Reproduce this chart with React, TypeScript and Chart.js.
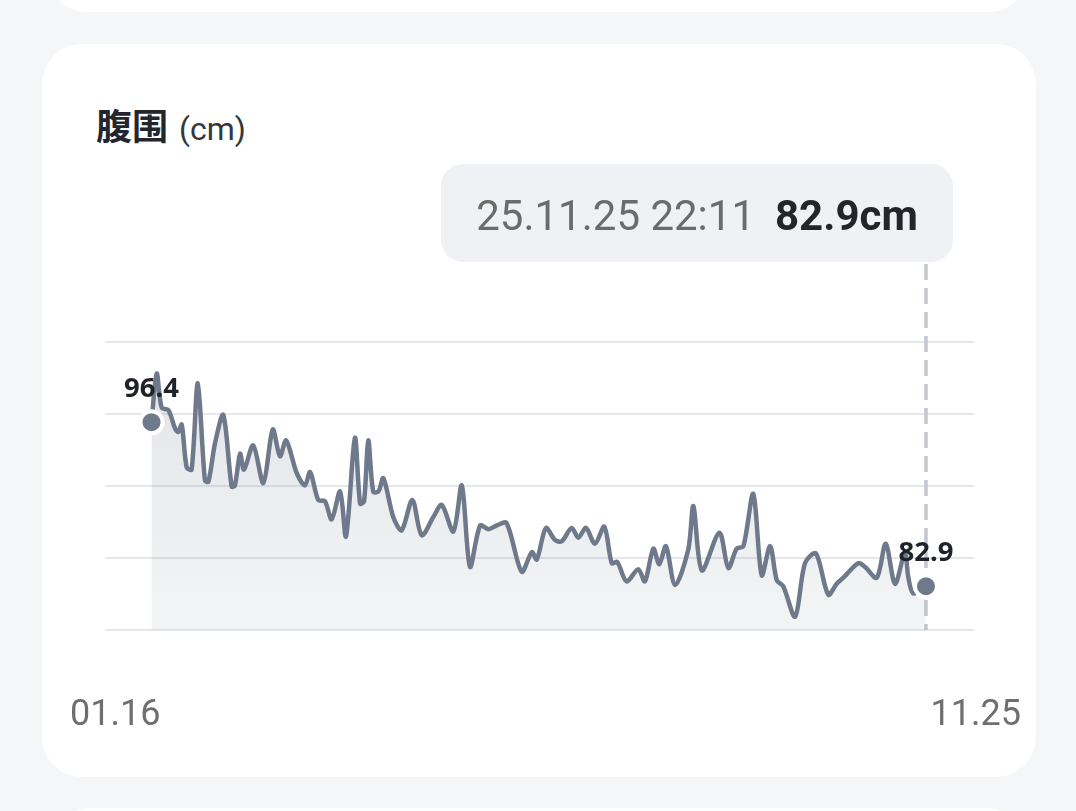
import React, { useEffect, useRef } from 'react';
import { Chart, registerables } from 'chart.js';

Chart.register(...registerables);

// ---- data ----
// days since 01.16 for each measurement
const dayOffsets = [
  0, 2.1, 4.1, 6.8, 9.5, 10.8, 12.2, 14.2, 16.2, 18.7,
  21.6, 23.0, 25.7, 29.0, 32.4, 33.7, 35.8, 37.4, 41.1, 45.2,
  49.0, 51.9, 54.4, 58.7, 62.0, 64.1, 67.4, 70.1, 72.8, 76.2,
  78.6, 82.2, 84.3, 85.9, 87.6, 89.6, 91.7, 93.7, 97.7, 101.1,
  105.4, 109.2, 113.9, 117.3, 122.0, 125.4, 128.7, 132.8, 136.1, 139.5,
  143.5, 149.6, 153.7, 155.7, 159.4, 163.1, 165.8, 169.8, 172.5, 175.6,
  179.2, 183.0, 186.0, 188.2, 192.0, 196.7, 199.4, 202.8, 205.2, 207.9,
  211.6, 216.9, 219.0, 222.4, 229.5, 233.1, 236.5, 239.2, 243.2, 246.6,
  250.0, 252.7, 255.3, 260.1, 264.1, 268.5, 273.5, 276.9, 279.6, 285.6,
  288.3, 293.1, 296.7, 300.5, 304.5, 305.8, 307.9, 313,
];
// waist circumference (cm)
const waistValues = [
  96.4, 100.4, 97.6, 97.4, 95.9, 95.6, 96.2, 92.7, 92.5, 99.6,
  91.6, 91.5, 94.7, 97.0, 91.1, 91.2, 93.8, 92.5, 94.5, 91.4,
  95.8, 93.6, 94.9, 92.2, 91.2, 92.3, 90.0, 89.9, 88.4, 90.7,
  87.0, 95.1, 89.7, 89.9, 94.9, 90.7, 90.7, 91.8, 88.6, 87.5,
  90.0, 87.1, 88.6, 89.6, 87.4, 91.2, 84.5, 87.9, 87.6, 87.9,
  88.1, 84.1, 85.7, 85.1, 87.7, 86.7, 86.6, 87.7, 86.9, 87.7,
  86.4, 87.8, 84.8, 84.9, 83.3, 84.3, 83.3, 86.0, 84.7, 86.2,
  83.0, 85.9, 89.5, 84.2, 87.3, 84.4, 86.0, 86.2, 90.5, 83.8,
  86.2, 83.4, 82.9, 80.4, 84.8, 85.6, 82.2, 83.1, 83.6, 84.8,
  84.5, 83.6, 86.4, 83.1, 85.7, 83.7, 82.3, 82.9,
];
const endpointDays = [0, 313];
const endpointValues = [96.4, 82.9];
const xTickLabels = ['01.16', '11.25'];
const tooltipDate = '25.11.25 22:11';
const tooltipValue = 82.9;
const unit = 'cm';
const titleText = '腹围';
const yMin = 79.3;
const yMax = 103;
const yTickCount = 5;
const xMin = -18.8;
const xMax = 332.4;

// ---- styles ----
const LINE = '#6e7a8c';
const PAGE_BG = '#f5f6f8';
const TOOLTIP_BOTTOM = 264;

const dashPlugin = {
  id: 'dashLine',
  beforeDatasetsDraw(chart: any) {
    const meta = chart.getDatasetMeta(0);
    const pts = meta.data;
    if (!pts.length) return;
    const last = pts[pts.length - 1];
    const { ctx, chartArea } = chart;
    ctx.save();
    ctx.strokeStyle = '#c3c7cd';
    ctx.lineWidth = 3.5;
    ctx.setLineDash([16, 8]);
    ctx.beginPath();
    ctx.moveTo(last.x, TOOLTIP_BOTTOM);
    ctx.lineTo(last.x, chartArea.bottom);
    ctx.stroke();
    ctx.restore();
  },
};

const labelPlugin = {
  id: 'valueLabels',
  afterDatasetsDraw(chart: any) {
    const { ctx } = chart;
    const meta = chart.getDatasetMeta(0);
    ctx.save();
    ctx.font = '700 27.5px "Noto Sans", "Open Sans", sans-serif';
    ctx.fillStyle = '#1f2329';
    ctx.textAlign = 'center';
    ctx.textBaseline = 'alphabetic';
    meta.data.forEach((pt: any, i: number) => {
      ctx.fillText(endpointValues[i].toFixed(1), pt.x, pt.y - 25);
    });
    ctx.restore();
  },
};

const xLabelPlugin = {
  id: 'xLabels',
  afterDraw(chart: any) {
    const { ctx, chartArea } = chart;
    ctx.save();
    ctx.font = '400 36px Roboto, sans-serif';
    ctx.fillStyle = '#6f6f6f';
    ctx.textBaseline = 'alphabetic';
    const baseY = chartArea.bottom + 95;
    ctx.textAlign = 'left';
    ctx.fillText(xTickLabels[0], chartArea.left - 35, baseY);
    ctx.textAlign = 'right';
    ctx.fillText(xTickLabels[xTickLabels.length - 1], chartArea.right + 47, baseY);
    ctx.restore();
  },
};

export default function App() {
  const canvasRef = useRef<HTMLCanvasElement | null>(null);

  useEffect(() => {
    const canvas = canvasRef.current;
    if (!canvas) return;
    const chart = new Chart(canvas, {
      type: 'line',
      data: {
        datasets: [
          {
            label: 'endpoints',
            data: endpointDays.map((d, i) => ({ x: d, y: endpointValues[i] })),
            showLine: false,
            pointRadius: 11,
            pointHoverRadius: 11,
            pointBackgroundColor: LINE,
            pointBorderColor: '#ffffff',
            pointBorderWidth: 4,
            order: 0,
            clip: false,
          } as any,
          {
            label: '腹围',
            data: dayOffsets.map((d, i) => ({ x: d, y: waistValues[i] })),
            borderColor: LINE,
            borderWidth: 4.5,
            borderJoinStyle: 'round',
            borderCapStyle: 'round',
            tension: 0.3,
            pointRadius: 0,
            pointHoverRadius: 0,
            fill: 'start',
            order: 1,
            backgroundColor: (c: any) => {
              const area = c.chart.chartArea;
              if (!area) return 'rgba(110,122,140,0.12)';
              const g = c.chart.ctx.createLinearGradient(0, area.top, 0, area.bottom);
              g.addColorStop(0, 'rgba(110,122,140,0.21)');
              g.addColorStop(1, 'rgba(110,122,140,0.08)');
              return g;
            },
          } as any,
        ],
      },
      options: {
        animation: false,
        responsive: false,
        events: [],
        layout: { padding: { left: 105, right: 102, top: 342, bottom: 181 } },
        plugins: {
          legend: { display: false },
          tooltip: { enabled: false },
        },
        scales: {
          x: { type: 'linear', display: false, min: xMin, max: xMax },
          y: {
            type: 'linear',
            min: yMin,
            max: yMax,
            afterFit: (s: any) => {
              s.width = 0;
            },
            ticks: { display: false, count: yTickCount },
            border: { display: false },
            grid: { color: '#e6e7ea', lineWidth: 2, drawTicks: false },
          },
        },
      },
      plugins: [dashPlugin, labelPlugin, xLabelPlugin],
    });
    return () => chart.destroy();
  }, []);

  return (
    <div style={{ position: 'fixed', left: 0, top: 0, width: 1076, height: 811, background: PAGE_BG, overflow: 'hidden' }}>
      <div style={{ position: 'absolute', left: 50, top: -60, width: 976, height: 72, borderRadius: 40, background: '#ffffff' }} />
      <div style={{ position: 'absolute', left: 50, top: 808, width: 976, height: 80, borderRadius: 40, background: '#ffffff' }} />
      <div style={{ position: 'absolute', left: 42, top: 44, width: 994, height: 733, borderRadius: 40, background: '#ffffff' }} />
      <div
        style={{
          position: 'absolute',
          left: 96,
          top: 104,
          lineHeight: '40px',
          whiteSpace: 'nowrap',
          fontFamily: '"Noto Sans CJK SC", sans-serif',
          fontSize: 36,
          color: '#23272d',
        }}
      >
        <span style={{ fontWeight: 700 }}>{titleText}</span>
        <span style={{ fontFamily: 'Roboto, sans-serif', fontSize: 32, marginLeft: 11, color: '#33373c' }}>({unit})</span>
      </div>
      <canvas ref={canvasRef} width={1076} height={811} style={{ position: 'absolute', left: 0, top: 0, width: 1076, height: 811 }} />
      <div style={{ position: 'absolute', left: 441, top: 164, width: 512, height: 98, borderRadius: 22, background: '#eff1f4' }}>
        <div
          style={{
            position: 'absolute',
            left: 0,
            right: 0,
            top: 30.6,
            textAlign: 'center',
            lineHeight: '42px',
            fontFamily: 'Roboto, sans-serif',
            fontSize: 42,
            whiteSpace: 'nowrap',
          }}
        >
          <span style={{ color: '#6b6b6b' }}>{tooltipDate}</span>
          <span style={{ color: '#22262b', fontWeight: 700, marginLeft: 20 }}>
            {tooltipValue.toFixed(1)}
            {unit}
          </span>
        </div>
      </div>
    </div>
  );
}
